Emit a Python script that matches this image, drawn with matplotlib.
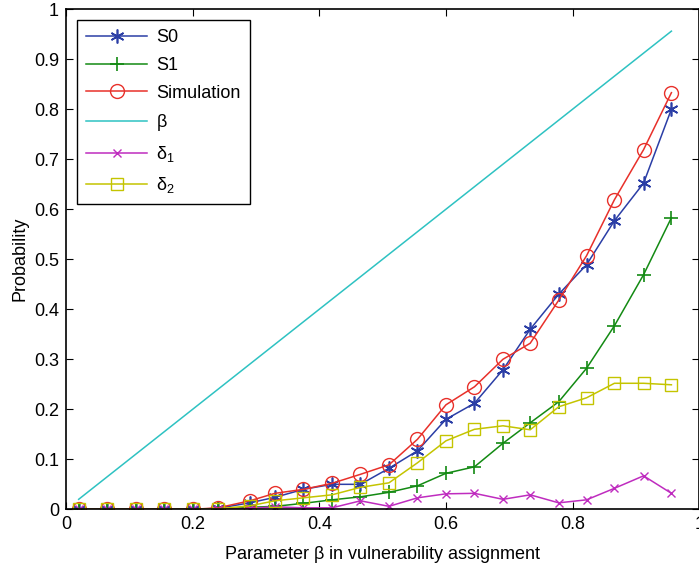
import matplotlib
matplotlib.use('Agg')
import matplotlib.pyplot as plt

plt.rcParams['font.family'] = ['Liberation Sans', 'DejaVu Sans']
plt.rcParams['mathtext.fontset'] = 'custom'
plt.rcParams['mathtext.rm'] = 'Liberation Sans'
plt.rcParams['mathtext.default'] = 'regular'

beta = [0.02, 0.065, 0.11, 0.155, 0.2, 0.24, 0.29, 0.33, 0.375, 0.42, 0.465,
        0.51, 0.555, 0.6, 0.645, 0.69, 0.733, 0.778, 0.822, 0.866, 0.912, 0.956]
s0 = [0, 0, 0, 0, 0, 0.002, 0.013, 0.024, 0.04, 0.05, 0.05,
      0.082, 0.117, 0.18, 0.212, 0.279, 0.36, 0.43, 0.489, 0.577, 0.652, 0.80]
s1 = [0, 0, 0, 0, 0, 0, 0.004, 0.006, 0.012, 0.019, 0.025,
      0.034, 0.047, 0.072, 0.085, 0.132, 0.173, 0.215, 0.282, 0.367, 0.469, 0.583]
sim = [0, 0, 0, 0, 0, 0.003, 0.017, 0.032, 0.04, 0.052, 0.07,
       0.089, 0.14, 0.209, 0.245, 0.30, 0.332, 0.418, 0.507, 0.619, 0.719, 0.833]
delta1 = [0, 0, 0, 0, 0, 0, 0.002, 0.005, 0.003, 0.003, 0.017,
          0.006, 0.023, 0.031, 0.032, 0.02, 0.029, 0.013, 0.019, 0.042, 0.067, 0.032]
delta2 = [0, 0, 0, 0, 0, 0.001, 0.007, 0.017, 0.023, 0.029, 0.044,
          0.053, 0.093, 0.137, 0.16, 0.167, 0.159, 0.205, 0.223, 0.252, 0.252, 0.249]

fig = plt.figure(figsize=(6.99, 5.71), dpi=100)
ax = fig.add_axes([0.0944, 0.108, 0.906, 0.876])

ax.plot(beta, s0, color='#2b3ea6', marker=(6, 2, 0), ms=10, mew=1.2, lw=1.1, label='S0')
ax.plot(beta, s1, color='#138a13', marker='+', ms=10, mew=1.2, lw=1.1, label='S1')
ax.plot(beta, sim, color='#e8302a', marker='o', ms=10, mfc='none', lw=1.1, label='Simulation')
ax.plot(beta, beta, color='#2ec2c2', lw=1.1, label=r'$\beta$')
ax.plot(beta, delta1, color='#bf2cbf', marker='x', ms=6, lw=1.1, label=r'$\delta_1$')
ax.plot(beta, delta2, color='#c4c400', marker='s', ms=8, mfc='none', lw=1.1, label=r'$\delta_2$')

ax.set_xlim(0, 1)
ax.set_ylim(0, 1)
ax.set_xticks([0, 0.2, 0.4, 0.6, 0.8, 1])
ax.set_xticklabels(['0', '0.2', '0.4', '0.6', '0.8', '1'])
ax.set_yticks([0, 0.1, 0.2, 0.3, 0.4, 0.5, 0.6, 0.7, 0.8, 0.9, 1])
ax.set_yticklabels(['0', '0.1', '0.2', '0.3', '0.4', '0.5', '0.6', '0.7', '0.8', '0.9', '1'])
ax.tick_params(direction='in', top=True, right=True, labelsize=13, length=5, pad=5)
for sp in ax.spines.values():
    sp.set_linewidth(1.2)

ax.set_xlabel(r'Parameter $\beta$ in vulnerability assignment', fontsize=13, labelpad=8)
ax.set_ylabel('Probability', fontsize=13, labelpad=4)

leg = ax.legend(loc='upper left', fontsize=13, fancybox=False, edgecolor='black',
                framealpha=1, handlelength=3.4, handletextpad=0.5,
                borderaxespad=0.6, labelspacing=0.6, borderpad=0.5)
leg.get_frame().set_linewidth(1.0)

fig.savefig('out.png', dpi=100)
